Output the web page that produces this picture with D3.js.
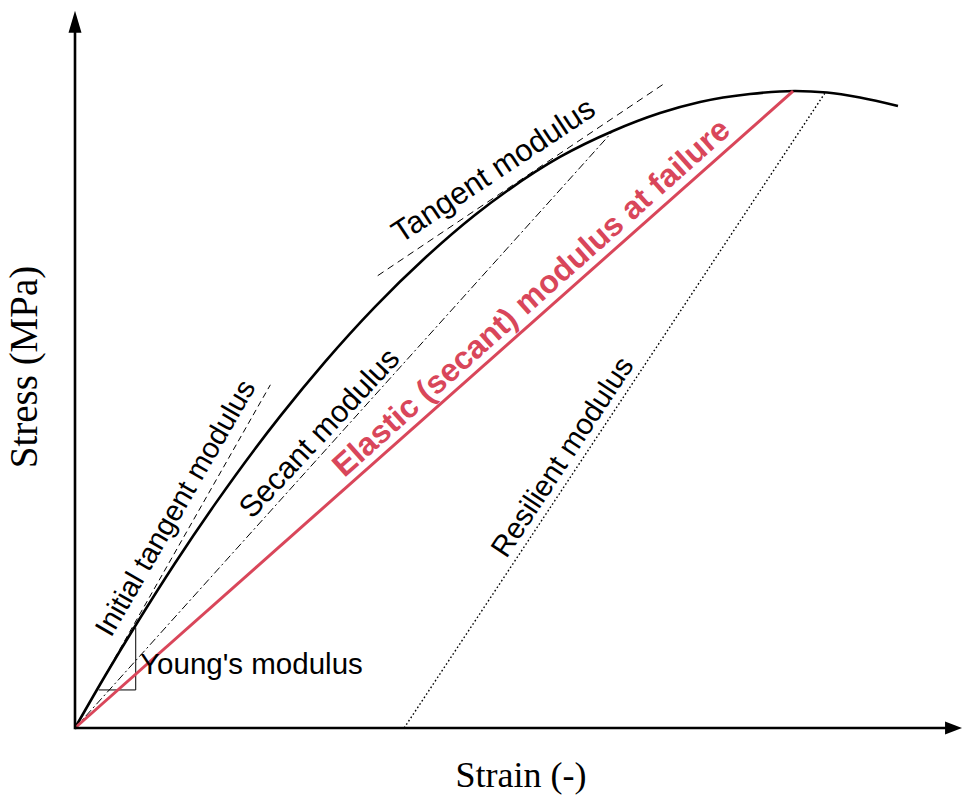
<!DOCTYPE html>
<html>
<head>
<meta charset="utf-8">
<script src="https://cdn.jsdelivr.net/npm/d3@7"></script>
<style>
  html, body { margin: 0; padding: 0; background: #fff; }
  svg { display: block; }
</style>
</head>
<body>
<svg id="chart" width="962" height="798"></svg>
<script>
// ---- data (strain, stress in arbitrary units) ----
const curveStrain = [0, 0.341, 0.705, 1.136, 1.591, 2.045, 2.330, 2.841, 3.409, 3.977, 4.545, 4.909, 5.511, 6.114, 6.648, 7.102, 7.670, 8.182, 8.545, 8.920, 9.352];
const curveStress = [0, 0.724, 1.462, 2.295, 3.118, 3.887, 4.340, 5.100, 5.866, 6.546, 7.145, 7.479, 7.953, 8.315, 8.565, 8.719, 8.830, 8.872, 8.851, 8.781, 8.663];

const initialTangent = [[0, 0], [2.22, 4.78]];
const tangentLine    = [[3.44, 6.30], [6.69, 8.97]];
const secantLine     = [[0, 0], [6.11, 8.31]];
const failureLine    = [[0, 0], [8.16, 8.87]];
const resilientLine  = [[3.74, 0], [8.52, 8.84]];
const youngTriangle  = [[0.27, 0.53], [0.69, 0.53], [0.69, 1.40]];

const labelTexts  = ["Initial tangent modulus", "Secant modulus", "Tangent modulus", "Elastic (secant) modulus at failure", "Resilient modulus", "Young's modulus"];
const labelStrain = [0.41, 2.01, 3.70, 3.06, 4.90, 0.74];
const labelStress = [1.25, 2.90, 6.74, 3.48, 2.35, 0.75];
const labelAngle  = [60, 47, 33.5, 41.7, 56.5, 0];
const labelSize   = [29, 30.5, 31, 32, 29.5, 29.5];

const xTitle = "Strain (-)";
const yTitle = "Stress (MPa)";
const axisMax = [10.08, 9.99];

// ---- drawing ----
const svg = d3.select("#chart");
const x = d3.scaleLinear().domain([0, 10]).range([75, 955]);
const y = d3.scaleLinear().domain([0, 10]).range([728, 10]);
const RED = "#d9465a";

const line = d3.line().x(d => x(d[0])).y(d => y(d[1]));

// Young's modulus triangle
svg.append("path")
  .attr("d", line(youngTriangle))
  .attr("fill", "none").attr("stroke", "#000").attr("stroke-width", 1);

// reference lines
svg.append("path").attr("d", line(initialTangent))
  .attr("fill", "none").attr("stroke", "#000").attr("stroke-width", 1)
  .attr("stroke-dasharray", "6,4");
svg.append("path").attr("d", line(tangentLine))
  .attr("fill", "none").attr("stroke", "#000").attr("stroke-width", 1)
  .attr("stroke-dasharray", "7,5");
svg.append("path").attr("d", line(secantLine))
  .attr("fill", "none").attr("stroke", "#000").attr("stroke-width", 1)
  .attr("stroke-dasharray", "8,3,2,3");
svg.append("path").attr("d", line(resilientLine))
  .attr("fill", "none").attr("stroke", "#000").attr("stroke-width", 1.4)
  .attr("stroke-dasharray", "1.6,2.4");

// stress-strain curve
const curvePts = curveStrain.map((s, i) => [s, curveStress[i]]);
svg.append("path")
  .attr("d", d3.line().x(d => x(d[0])).y(d => y(d[1])).curve(d3.curveMonotoneX)(curvePts))
  .attr("fill", "none").attr("stroke", "#000").attr("stroke-width", 2.6);

// failure secant (red)
svg.append("path").attr("d", line(failureLine))
  .attr("fill", "none").attr("stroke", RED).attr("stroke-width", 3);

// axes
const x0 = x(0), y0 = y(0);
const xEnd = x(axisMax[0]), yEnd = y(axisMax[1]);
svg.append("line").attr("x1", x0).attr("y1", y0).attr("x2", xEnd - 14).attr("y2", y0)
  .attr("stroke", "#000").attr("stroke-width", 2.6);
svg.append("line").attr("x1", x0).attr("y1", y0 + 1.3).attr("x2", x0).attr("y2", yEnd + 18)
  .attr("stroke", "#000").attr("stroke-width", 2.6);
svg.append("path")
  .attr("d", `M${xEnd},${y0} L${xEnd - 17},${y0 - 6.5} L${xEnd - 17},${y0 + 6.5} Z`)
  .attr("fill", "#000");
svg.append("path")
  .attr("d", `M${x0},${yEnd} L${x0 - 6.5},${yEnd + 22} L${x0 + 6.5},${yEnd + 22} Z`)
  .attr("fill", "#000");

// annotation labels
labelTexts.forEach((t, i) => {
  const isRed = i === 3;
  svg.append("text")
    .attr("transform", `translate(${x(labelStrain[i])},${y(labelStress[i])}) rotate(${-labelAngle[i]})`)
    .attr("font-family", "'Liberation Sans', Arial, sans-serif")
    .attr("font-size", labelSize[i])
    .attr("font-weight", isRed ? "bold" : "normal")
    .attr("fill", isRed ? RED : "#000")
    .text(t);
});

// axis titles
svg.append("text")
  .attr("x", 521).attr("y", 787)
  .attr("text-anchor", "middle")
  .attr("font-family", "'Liberation Serif', 'Times New Roman', serif")
  .attr("font-size", 36)
  .text(xTitle);
svg.append("text")
  .attr("transform", "translate(37,367) rotate(-90)")
  .attr("text-anchor", "middle")
  .attr("font-family", "'Liberation Serif', 'Times New Roman', serif")
  .attr("font-size", 39)
  .text(yTitle);
</script>
</body>
</html>
